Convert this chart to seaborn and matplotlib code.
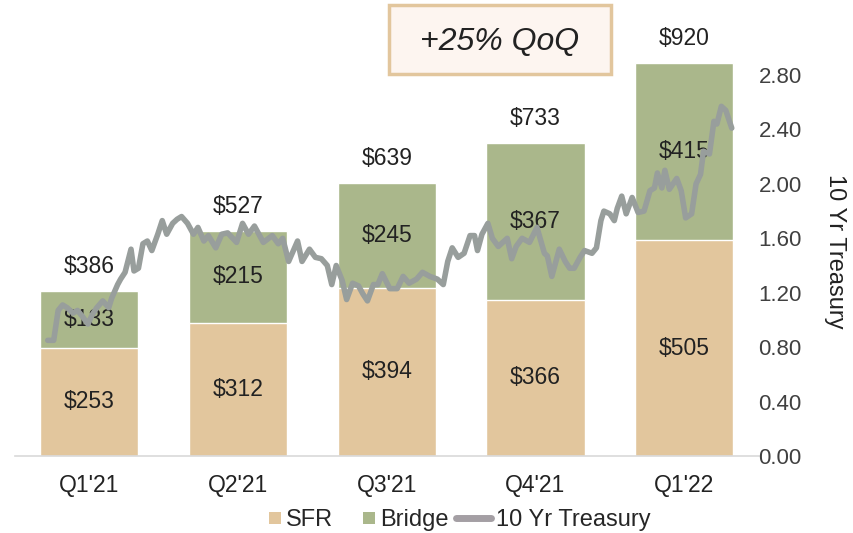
import numpy as np
import pandas as pd
import matplotlib
matplotlib.use("Agg")
import matplotlib.pyplot as plt
import seaborn as sns
from matplotlib.patches import Rectangle, Patch
from matplotlib.lines import Line2D
from matplotlib.legend_handler import HandlerPatch

sns.set_style("white")
plt.rcParams['font.family'] = ['Liberation Sans', 'DejaVu Sans']

# data
quarters = ["Q1'21", "Q2'21", "Q3'21", "Q4'21", "Q1'22"]
sfr = [253, 312, 394, 366, 505]
bridge = [133, 215, 245, 367, 415]
totals = [s + b for s, b in zip(sfr, bridge)]

# 10 yr treasury, position in quarter units (0 = middle of Q1'21) and yield
tsy_pos = [-0.28, -0.24, -0.21, -0.18, -0.15, -0.11, -0.08, -0.05, -0.01, 0.02,
           0.05, 0.09, 0.13, 0.15, 0.19, 0.21, 0.24, 0.28, 0.30, 0.33,
           0.36, 0.39, 0.42, 0.46, 0.49, 0.52, 0.56, 0.59, 0.62, 0.66,
           0.70, 0.73, 0.77, 0.80, 0.85, 0.89, 0.93, 0.99, 1.03, 1.07,
           1.11, 1.17, 1.23, 1.27, 1.30, 1.34, 1.40, 1.43, 1.48, 1.52,
           1.56, 1.60, 1.63, 1.66, 1.70, 1.73, 1.77, 1.81, 1.84, 1.87,
           1.91, 1.94, 1.97, 2.02, 2.07, 2.11, 2.15, 2.20, 2.24, 2.29,
           2.34, 2.38, 2.41, 2.44, 2.48, 2.52, 2.56, 2.59, 2.61, 2.64,
           2.68, 2.71, 2.75, 2.81, 2.84, 2.87, 2.91, 2.96, 3.01, 3.06,
           3.08, 3.11, 3.16, 3.20, 3.23, 3.26, 3.30, 3.33, 3.38, 3.41,
           3.44, 3.46, 3.50, 3.53, 3.55, 3.58, 3.61, 3.65, 3.69, 3.73,
           3.77, 3.80, 3.82, 3.85, 3.87, 3.90, 3.95, 3.98, 4.01, 4.05,
           4.08, 4.11, 4.13, 4.17, 4.20, 4.22, 4.25, 4.28, 4.32]
tsy_yield = [0.85, 0.85, 1.07, 1.11, 1.09, 1.05, 1.07, 1.03, 0.97, 1.04,
             1.09, 1.14, 1.09, 1.16, 1.26, 1.30, 1.35, 1.52, 1.36, 1.38,
             1.56, 1.58, 1.51, 1.63, 1.73, 1.63, 1.71, 1.74, 1.76, 1.71,
             1.63, 1.68, 1.58, 1.62, 1.53, 1.63, 1.64, 1.57, 1.71, 1.63,
             1.69, 1.57, 1.62, 1.56, 1.60, 1.43, 1.58, 1.43, 1.52, 1.46,
             1.45, 1.40, 1.26, 1.40, 1.29, 1.15, 1.27, 1.25, 1.19, 1.14,
             1.26, 1.26, 1.34, 1.23, 1.23, 1.32, 1.27, 1.30, 1.35, 1.32,
             1.30, 1.26, 1.43, 1.53, 1.46, 1.49, 1.62, 1.62, 1.51, 1.63,
             1.71, 1.60, 1.54, 1.60, 1.45, 1.54, 1.60, 1.57, 1.68, 1.49,
             1.47, 1.32, 1.52, 1.43, 1.38, 1.38, 1.46, 1.51, 1.49, 1.53,
             1.73, 1.80, 1.78, 1.73, 1.82, 1.91, 1.78, 1.90, 1.79, 1.80,
             1.95, 1.97, 2.08, 1.97, 2.10, 1.96, 2.04, 1.95, 1.75, 1.78,
             2.00, 2.07, 2.24, 2.22, 2.46, 2.44, 2.57, 2.54, 2.41]

sfr_color = "#E2C69D"
bridge_color = "#AAB78B"
line_color = "#989E9C"

df = pd.DataFrame({"quarter": quarters, "sfr": sfr, "bridge": bridge, "total": totals})
tsy = pd.DataFrame({"pos": tsy_pos, "yield": tsy_yield})

fig = plt.figure(figsize=(8.54, 5.33), dpi=100)
ax = fig.add_axes([0.0176, 0.1445, 0.8706, 0.8168])

# stacked bars: total (bridge colour) then sfr on top of it
sns.barplot(data=df, x="quarter", y="total", color=bridge_color, width=0.66,
            saturation=1, ax=ax)
sns.barplot(data=df, x="quarter", y="sfr", color=sfr_color, width=0.66,
            saturation=1, ax=ax)
ax.set_ylim(0, 1020)
ax.set_xlim(-0.5, 4.5)

for i in range(len(quarters)):
    ax.text(i, sfr[i] / 2, f"${sfr[i]}", ha="center", va="center", fontsize=16.5, color="#222222")
    ax.text(i, sfr[i] + bridge[i] / 2, f"${bridge[i]}", ha="center", va="center", fontsize=16.5, color="#222222")
    ax.text(i, totals[i] + 58, f"${totals[i]}", ha="center", va="center", fontsize=16.5, color="#222222")

ax.set_xlabel("")
ax.set_ylabel("")
ax.set_yticks([])
ax.tick_params(axis="x", length=0, labelsize=16.5, labelcolor="#222222", pad=13)
for s in ["top", "left", "right"]:
    ax.spines[s].set_visible(False)
ax.spines["bottom"].set_color("#D9D9D9")
ax.spines["bottom"].set_linewidth(1.2)

# treasury line on the right axis
ax2 = ax.twinx()
sns.lineplot(data=tsy, x="pos", y="yield", color=line_color, linewidth=4,
             estimator=None, sort=False, ax=ax2)
ax2.set_ylim(0, 3.2)
ax2.set_yticks(np.arange(0, 2.81, 0.4))
ax2.set_yticklabels([f"{v:.2f}" for v in np.arange(0, 2.81, 0.4)])
ax2.tick_params(axis="y", length=0, labelsize=16, labelcolor="#404040", pad=0)
ax2.set_xlabel("")
ax2.set_ylabel("10 Yr Treasury", rotation=270, fontsize=17, color="#222222", labelpad=32)
ax2.yaxis.label.set_y(0.47)
for s in ["top", "left", "right", "bottom"]:
    ax2.spines[s].set_visible(False)


class SquareHandler(HandlerPatch):
    def create_artists(self, legend, orig_handle, xdescent, ydescent, width, height, fontsize, trans):
        side = height * 0.75
        r = Rectangle((width - side - xdescent, -ydescent + (height - side) / 2), side, side,
                      facecolor=orig_handle.get_facecolor(), edgecolor="none", transform=trans)
        return [r]


handles = [Patch(facecolor=sfr_color), Patch(facecolor=bridge_color),
           Line2D([0], [0], color="#A49FA4", linewidth=5)]
fig.legend(handles, ["SFR", "Bridge", "10 Yr Treasury"], loc="center",
           bbox_to_anchor=(0.5246, 0.0244), ncol=3, frameon=False, fontsize=17,
           handlelength=1.5, handletextpad=0.2, columnspacing=0.3,
           borderpad=0, handler_map={Patch: SquareHandler()})

# QoQ callout box
fig.patches.append(Rectangle((389 / 854, 1 - 74 / 533), 222 / 854, 69 / 533,
                             transform=fig.transFigure, facecolor="#FDF5F0",
                             edgecolor="#E2C69D", linewidth=2.5, zorder=5))
fig.text(500 / 854, 1 - 42 / 533, "+25% QoQ", ha="center", va="center",
         fontsize=23, style="italic", color="#222222", zorder=6)

plt.savefig("out.png", dpi=100)
